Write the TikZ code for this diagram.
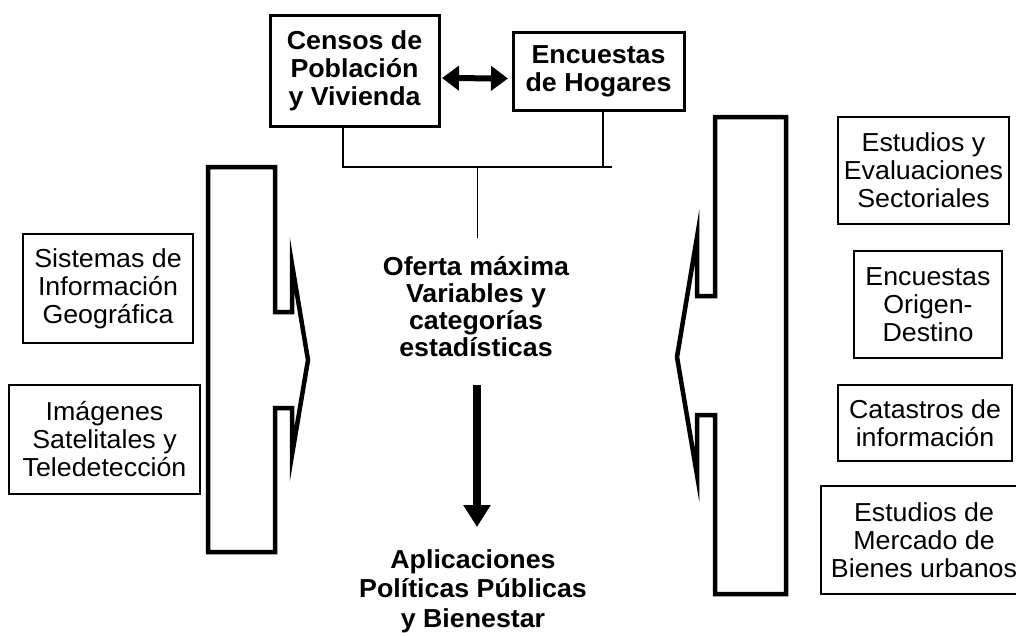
\documentclass[tikz,border=0pt]{standalone}
\usepackage{fontspec}
\setmainfont{Liberation Sans}[FakeStretch=1.03]
\usetikzlibrary{arrows.meta}
\begin{document}
\begin{tikzpicture}[x=1pt,y=-1pt,
  txt/.style={align=center, inner sep=0pt, outer sep=0pt, font=\fontsize{26}{28}\selectfont},
  btxt/.style={txt, font=\fontsize{26}{28}\selectfont\bfseries},
  sidebox/.style={txt, draw, line width=1.2pt},
  topbox/.style={btxt, draw, line width=3pt},
  bracket/.style={draw, line width=4.5pt, miter limit=20},
  thinline/.style={draw, line width=1.3pt},
  bigarrow/.style={line width=8pt, -{Triangle[width=26pt,length=22pt]}},
  dblarrow/.style={line width=6pt, {Triangle[width=24pt,length=17pt]}-{Triangle[width=24pt,length=17pt]}}
]
\useasboundingbox (0,0) rectangle (1016,635);
\fill[white] (0,0) rectangle (1016,635);

% top boxes
\node[topbox, minimum width=169pt, minimum height=111pt] (cen) at (354.5,70.5) {Censos de\\Población\\y Vivienda};
\node[topbox, minimum width=171pt, minimum height=78pt] (hog) at (598.5,71) {Encuestas\\de Hogares};
\draw[dblarrow] ([xshift=3pt,yshift=-7.5pt]cen.east) -- ([xshift=-5pt,yshift=-7.5pt]hog.west);

% connectors
\coordinate (j) at (477,167);
\coordinate (jr) at (612,167);
\coordinate (jb) at (477,238);
\draw[thinline] ([xshift=-11.5pt]cen.south) |- (jr);
\draw[thinline] ([xshift=4.5pt]hog.south) -- ([xshift=4.5pt]hog.south |- jr);
\draw[line width=1pt] (j) -- (jb);

% central texts
\node[btxt, font=\fontsize{26}{27}\selectfont\bfseries] (ofe) at (476,307) {Oferta máxima\\Variables y\\categorías\\estadísticas};
\node[btxt, font=\fontsize{26}{29.5}\selectfont\bfseries] (apl) at (473,591) {Aplicaciones\\Políticas Públicas\\y Bienestar};
\coordinate (a1) at (477,385);
\coordinate (a2) at (477,527);
\draw[bigarrow] (a1) -- (a2);

% left side boxes
\node[sidebox, minimum width=170pt, minimum height=109pt] (sig) at (108,288.5) {Sistemas de\\Información\\Geográfica};
\node[sidebox, minimum width=191pt, minimum height=109pt] (img) at (104.5,439.5) {Imágenes\\Satelitales y\\Teledetección};

% right side boxes
\node[sidebox, minimum width=171pt, minimum height=107pt] (est) at (923.5,170.5) {Estudios y\\Evaluaciones\\Sectoriales};
\node[sidebox, minimum width=148pt, minimum height=107pt] (od) at (928,304.5) {Encuestas\\Origen-\\Destino};
\node[sidebox, minimum width=174pt, minimum height=76pt] (cat) at (925,423) {Catastros de\\información};
\node[sidebox, minimum width=206pt, minimum height=108pt] (mer) at (924,540) {Estudios de\\Mercado de\\Bienes urbanos};

% brackets
\draw[bracket] (208,167) -- (275,167) -- (275,312) -- (292,312) -- (292,264) -- (308,360) -- (292,455) -- (292,408) -- (275,408) -- (275,552) -- (208,552) -- cycle;
\draw[bracket] (786,117) -- (715,117) -- (715,296) -- (697,296) -- (697,237) -- (677,357) -- (697,475) -- (697,415) -- (715,415) -- (715,594) -- (786,594) -- cycle;
\end{tikzpicture}
\end{document}
